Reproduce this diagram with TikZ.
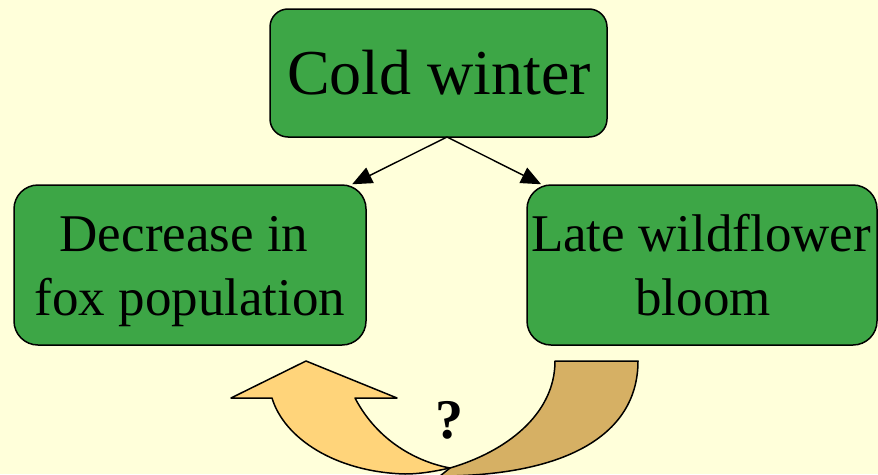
\documentclass[tikz,border=0pt]{standalone}
\usepackage{fontspec}
\setmainfont{Liberation Serif}
\usetikzlibrary{arrows.meta}
\definecolor{bgyellow}{HTML}{FFFFDA}
\definecolor{boxgreen}{HTML}{3DA646}
\definecolor{arrorange}{HTML}{FFD47A}
\definecolor{arrtan}{HTML}{D6B064}
\tikzset{
  greenbox/.style={draw=black, line width=1.5pt, fill=boxgreen, rounded corners=#1, inner sep=0pt},
  bigtext/.style={anchor=base, inner sep=0pt, font=\fontsize{64}{76}\selectfont},
  boxtext/.style={anchor=base, inner sep=0pt, font=\fontsize{53}{64}\selectfont},
  conn/.style={line width=1.4pt, -{Triangle[length=20pt,width=17pt]}},
  bandline/.style={draw=black, line width=1.5pt, line join=round}
}
\begin{document}
\begin{tikzpicture}[x=1pt,y=-1pt]
\useasboundingbox (0,0) rectangle (878,474);
\fill[bgyellow] (0,0) rectangle (878,474);
% boxes
\node[greenbox=18pt, minimum width=337pt, minimum height=128pt] (cold) at (438.5,73) {};
\node[greenbox=24pt, minimum width=352pt, minimum height=160pt] (fox) at (190,265) {};
\node[greenbox=24pt, minimum width=350pt, minimum height=160pt] (bloom) at (702,265) {};
% texts
\node[bigtext] (coldt) at (439,94) {Cold winter};
\node[boxtext] (foxa) at (184,251) {Decrease in};
\node[boxtext] (foxb) at (190,315) {fox population};
\node[boxtext] (blooma) at (701,251) {Late wildflower};
\node[boxtext] (bloomb) at (703,315) {bloom};
% connectors
\coordinate (apex) at (447,137);
\draw[conn] (apex) -- (fox);
\draw[conn] (apex) -- (bloom);
% curved arrow
\begin{scope}
\clip (0,0) rectangle (878,474);
\path[bandline, fill=arrtan] (555,361) -- (638,361)
  .. controls (638,438) and (560,476) .. (440,476)
  -- (450,468)
  .. controls (505,452) and (555,415) .. (555,361) -- cycle;
\path[bandline, fill=arrorange] (306,361) -- (397,398) -- (355,398)
  .. controls (378,442) and (418,462) .. (450,468)
  .. controls (432,472) and (418,474) .. (405,474)
  .. controls (335,472) and (284,438) .. (272,398)
  -- (231,398) -- cycle;
\end{scope}
\node[inner sep=0pt, font=\fontsize{56}{60}\selectfont\bfseries, anchor=base] (q) at (449,438) {?};
\end{tikzpicture}
\end{document}
